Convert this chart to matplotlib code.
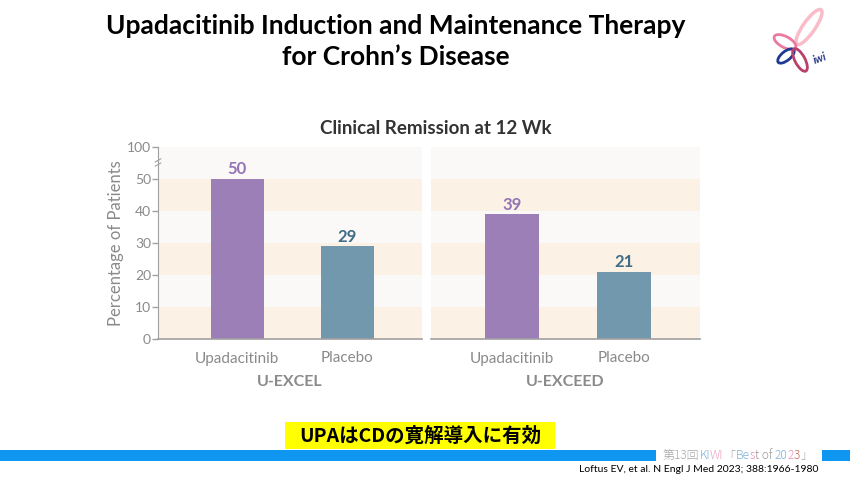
import matplotlib.pyplot as plt
from matplotlib.patches import Ellipse, Rectangle

# data
groups = ['U-EXCEL', 'U-EXCEED']
arms = ['Upadacitinib', 'Placebo']
excel_vals = [50, 29]
exceed_vals = [39, 21]
yticks = [0, 10, 20, 30, 40, 50, 60]
ytick_labels = ['0', '10', '20', '30', '40', '50', '100']

bar_colors = ['#9b7fb6', '#7298ad']
label_colors = ['#9474b6', '#3f6d86']
band_beige = '#fbf1e5'
band_light = '#fbf9f7'
gray = '#8a8a8a'

plt.rcParams['font.family'] = ['Lato', 'DejaVu Sans']
cjk = ['Noto Sans CJK JP', 'DejaVu Sans']

fig = plt.figure(figsize=(8.5, 4.78), dpi=100)

ax1 = fig.add_axes([158/850, 139/478, 264/850, 192/478])
ax2 = fig.add_axes([431/850, 139/478, 269/850, 192/478])

for ax, vals, name in [(ax1, excel_vals, groups[0]), (ax2, exceed_vals, groups[1])]:
    ax.set_xlim(-0.72, 1.68)
    ax.set_ylim(0, 60)
    # alternating background bands
    for lo in range(0, 60, 10):
        c = band_beige if (lo // 10) % 2 == 0 and lo < 50 else band_light
        ax.axhspan(lo, lo + 10, color=c, lw=0, zorder=0)
    ax.bar(range(len(arms)), vals, width=0.48, color=bar_colors, zorder=2)
    for i, v in enumerate(vals):
        ax.text(i, v + 0.5, str(v), ha='center', va='bottom', fontsize=12,
                fontweight='bold', color=label_colors[i])
    ax.set_xticks(range(len(arms)))
    ax.set_xticklabels(arms, fontsize=11, color=gray)
    ax.tick_params(axis='x', length=0, pad=9)
    for s in ['top', 'right']:
        ax.spines[s].set_visible(False)
    ax.spines['bottom'].set_color('#a0a0a0')
    ax.spines['bottom'].set_linewidth(1.2)
    ax.text(0.5, -0.19, name, transform=ax.transAxes, ha='center', va='top',
            fontsize=11.5, fontweight='bold', color=gray)

ax1.set_yticks(yticks)
ax1.set_yticklabels(ytick_labels, fontsize=10, color=gray)
ax1.tick_params(axis='y', length=4, width=1, color='#a0a0a0', pad=1)
ax1.spines['left'].set_color('#a0a0a0')
ax1.set_ylabel('Percentage of Patients', fontsize=12, color=gray, labelpad=2)
# axis break mark
for yb in [54.5, 55.8]:
    ax1.plot([-0.745, -0.695], [yb - 0.5, yb + 0.5], color='#a0a0a0', lw=0.8,
             clip_on=False, zorder=3)

ax2.set_yticks([])
ax2.spines['left'].set_visible(False)

fig.text(436/850, 1 - 128/478, 'Clinical Remission at 12 Wk', ha='center', va='center',
         fontsize=13.5, fontweight='bold', color='#333333')

# slide title
fig.text(396/850, 1 - 26/478, 'Upadacitinib Induction and Maintenance Therapy',
         ha='center', va='center', fontsize=19, fontweight='bold', color='black')
fig.text(396/850, 1 - 57/478, 'for Crohn\u2019s Disease',
         ha='center', va='center', fontsize=19, fontweight='bold', color='black')

# bottom band
fig.patches.append(Rectangle((0, 1 - 461/478), 656/850, 11/478, transform=fig.transFigure,
                             color='#0f96f0', lw=0))
fig.patches.append(Rectangle((822/850, 1 - 461/478), 28/850, 11/478, transform=fig.transFigure,
                             color='#0f96f0', lw=0))

# yellow message
fig.patches.append(Rectangle((285/850, 1 - 449/478), 270/850, 27/478, transform=fig.transFigure,
                             color='#ffff00', lw=0))
fig.text(420/850, 1 - 436/478, 'UPAはCDの寛解導入に有効', ha='center', va='center',
         fontsize=14, fontweight='bold', color='black', family=cjk)

# small meeting label, coloured pieces chained one after another
parts = [('第13回', '#a8a8a8'), ('KI', '#7fb0d8'), ('WI', '#f0a0c8'), ('「', '#a8a8a8'),
         ('Be', '#7fb0d8'), ('s', '#f090b8'), ('t of ', '#9a9a9a'), ('20', '#7fb0d8'),
         ('2', '#f090b8'), ('3', '#c07060'), ('」', '#a8a8a8')]
last = fig.text(663/850, 1 - 462/478, parts[0][0], ha='left', va='bottom', fontsize=8.6,
                color=parts[0][1], family=cjk, fontweight='light')
for txt, col in parts[1:]:
    last = ax1.annotate(txt, xy=(1, 0), xycoords=last, va='bottom', ha='left',
                        fontsize=8.6, color=col, annotation_clip=False, family=cjk,
                        fontweight='light')

fig.text(818/850, 1 - 469/478, 'Loftus EV, et al. N Engl J Med 2023; 388:1966-1980',
         ha='right', va='center', fontsize=7.5, color='black')

# logo, drawn in a small pixel-unit axes (y down)
axl = fig.add_axes([760/850, 1 - 90/478, 90/850, 90/478])
axl.set_xlim(760, 850)
axl.set_ylim(90, 0)
axl.axis('off')
logo = [((809, 27), 42, 12, -55, '#f9bcc8', 2.5),
        ((785, 42), 24, 11, 28, '#ea7aa0', 2.0),
        ((786, 56), 20, 9, -39, '#1f3a93', 2.0),
        ((800, 60), 25, 10, 62, '#b8406a', 2.0)]
for (xy, w, h, ang, col, lw) in logo:
    axl.add_patch(Ellipse(xy, w, h, angle=ang, fill=False, edgecolor=col, lw=lw))
axl.text(820, 58, 'iwi', fontsize=8, fontweight='bold', style='italic',
         color='#2a3a8a', rotation=20, ha='center', va='center')

fig.savefig('out.png', dpi=100)
